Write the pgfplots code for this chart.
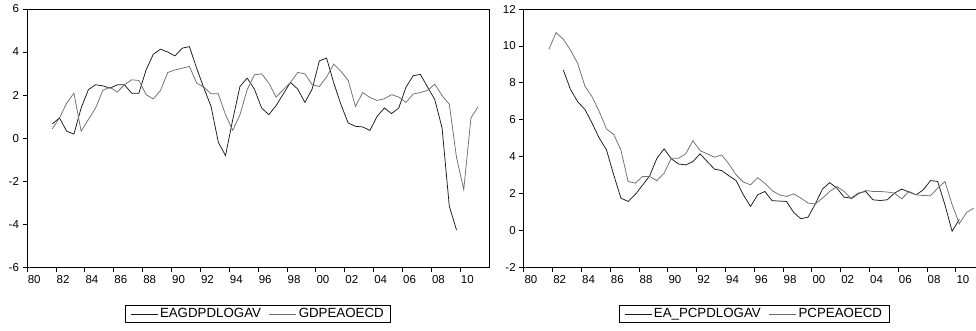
\documentclass[border=0pt]{standalone}
\usepackage{pgfplots}
\pgfplotsset{compat=1.18}
\usepackage{pgfplotstable}
\usepackage{fontspec}
\setmainfont{Liberation Sans}

\pgfplotstableread{
x y
1981.75 0.66
1982.25 0.94
1982.75 0.32
1983.25 0.19
1983.75 1.40
1984.25 2.25
1984.75 2.48
1985.25 2.43
1985.75 2.32
1986.25 2.48
1986.75 2.48
1987.25 2.09
1987.75 2.09
1988.25 3.17
1988.75 3.90
1989.25 4.13
1989.75 4.00
1990.25 3.82
1990.75 4.18
1991.25 4.25
1991.75 3.25
1992.25 2.33
1992.75 1.47
1993.25 -0.19
1993.75 -0.81
1994.25 0.86
1994.75 2.40
1995.25 2.79
1995.75 2.28
1996.25 1.40
1996.75 1.09
1997.25 1.51
1997.75 2.05
1998.25 2.59
1998.75 2.28
1999.25 1.66
1999.75 2.28
2000.25 3.59
2000.75 3.72
2001.25 2.56
2001.75 1.55
2002.25 0.70
2002.75 0.55
2003.25 0.52
2003.75 0.36
2004.25 1.01
2004.75 1.40
2005.25 1.14
2005.75 1.40
2006.25 2.37
2006.75 2.90
2007.25 2.96
2007.75 2.37
2008.25 1.78
2008.75 0.47
2009.25 -3.16
2009.75 -4.27
}\eagdp

\pgfplotstableread{
x y
1981.75 0.43
1982.25 0.94
1982.75 1.63
1983.25 2.09
1983.75 0.32
1984.25 0.86
1984.75 1.40
1985.25 2.22
1985.75 2.37
1986.25 2.14
1986.75 2.48
1987.25 2.71
1987.75 2.68
1988.25 2.02
1988.75 1.82
1989.25 2.22
1989.75 3.05
1990.25 3.17
1990.75 3.25
1991.25 3.33
1991.75 2.56
1992.25 2.37
1992.75 2.06
1993.25 2.06
1993.75 1.09
1994.25 0.36
1994.75 1.09
1995.25 2.25
1995.75 2.94
1996.25 2.99
1996.75 2.56
1997.25 1.91
1997.75 2.25
1998.25 2.59
1998.75 3.05
1999.25 2.99
1999.75 2.48
2000.25 2.40
2000.75 2.84
2001.25 3.44
2001.75 3.10
2002.25 2.68
2002.75 1.47
2003.25 2.12
2003.75 1.89
2004.25 1.75
2004.75 1.83
2005.25 2.02
2005.75 1.91
2006.25 1.66
2006.75 2.05
2007.25 2.12
2007.75 2.22
2008.25 2.51
2008.75 1.97
2009.25 1.58
2009.75 -0.90
2010.25 -2.39
2010.75 0.94
2011.25 1.47
}\gdpoecd

\pgfplotstableread{
x y
1982.75 8.69
1983.25 7.64
1983.75 6.97
1984.25 6.56
1984.75 5.81
1985.25 5.00
1985.75 4.36
1986.25 3.01
1986.75 1.75
1987.25 1.57
1987.75 1.95
1988.25 2.45
1988.75 2.96
1989.25 3.91
1989.75 4.42
1990.25 3.88
1990.75 3.60
1991.25 3.55
1991.75 3.73
1992.25 4.15
1992.75 3.73
1993.25 3.32
1993.75 3.24
1994.25 2.96
1994.75 2.70
1995.25 1.93
1995.75 1.30
1996.25 1.93
1996.75 2.11
1997.25 1.61
1997.75 1.59
1998.25 1.57
1998.75 0.97
1999.25 0.63
1999.75 0.72
2000.25 1.44
2000.75 2.24
2001.25 2.59
2001.75 2.29
2002.25 1.80
2002.75 1.75
2003.25 2.02
2003.75 2.11
2004.25 1.66
2004.75 1.62
2005.25 1.66
2005.75 2.02
2006.25 2.24
2006.75 2.08
2007.25 1.93
2007.75 2.20
2008.25 2.70
2008.75 2.65
2009.25 1.39
2009.75 -0.05
2010.25 0.60
}\eapcp

\pgfplotstableread{
x y
1981.75 9.81
1982.25 10.72
1982.75 10.36
1983.25 9.77
1983.75 9.05
1984.25 7.82
1984.75 7.24
1985.25 6.43
1985.75 5.50
1986.25 5.20
1986.75 4.36
1987.25 2.65
1987.75 2.56
1988.25 2.92
1988.75 2.92
1989.25 2.70
1989.75 3.10
1990.25 3.91
1990.75 3.91
1991.25 4.15
1991.75 4.86
1992.25 4.32
1992.75 4.15
1993.25 3.97
1993.75 4.09
1994.25 3.60
1994.75 3.01
1995.25 2.62
1995.75 2.47
1996.25 2.86
1996.75 2.55
1997.25 2.16
1997.75 1.93
1998.25 1.84
1998.75 1.98
1999.25 1.75
1999.75 1.48
2000.25 1.43
2000.75 1.75
2001.25 2.11
2001.75 2.38
2002.25 2.11
2002.75 1.71
2003.25 1.98
2003.75 2.16
2004.25 2.11
2004.75 2.11
2005.25 2.08
2005.75 2.02
2006.25 1.71
2006.75 2.11
2007.25 1.93
2007.75 1.89
2008.25 1.88
2008.75 2.29
2009.25 2.65
2009.75 1.40
2010.25 0.36
2010.75 0.97
2011.25 1.21
}\pcpoecd

\definecolor{serA}{RGB}{25,25,25}
\definecolor{serB}{RGB}{110,110,110}

\pgfplotsset{
  myax/.style={
    scale only axis,
    height=258.3pt,
    anchor=south west,
    xmin=1980, xmax=2012,
    xtick={1980,1982,...,2010},
    minor x tick num=3,
    xticklabels={80,82,84,86,88,90,92,94,96,98,00,02,04,06,08,10},
    xticklabel style={xshift=7.2pt},
    tick align=outside,
    xtick pos=bottom,
    ytick pos=left,
    major tick length=4.5pt,
    minor tick length=3pt,
    axis line style={line width=0.9pt},
    every tick/.style={black, line width=0.7pt},
    tick label style={font=\fontsize{11.5}{13}\selectfont},
    /pgf/number format/assume math mode=true,
    legend columns=2,
    legend image code/.code={\draw[##1] (0pt,0pt) -- (27pt,0pt);},
    legend style={at={(0.5,-0.146)}, anchor=north, draw=black, line width=0.6pt,
      font=\fontsize{13.3}{15}\selectfont, inner xsep=5pt, inner ysep=1.2pt,
      /tikz/every even column/.append style={column sep=6pt},
      cells={anchor=west}},
  }
}

\begin{document}
\begin{tikzpicture}[x=1pt,y=1pt]
\begin{axis}[myax, at={(27pt,63.7pt)}, width=462pt,
  ymin=-6, ymax=6, ytick={-6,-4,...,6}]
\addplot[serA, line width=0.75pt] table[x=x,y=y] {\eagdp};
\addlegendentry{EAGDPDLOGAV}
\addplot[serB, line width=0.75pt] table[x=x,y=y] {\gdpoecd};
\addlegendentry{GDPEAOECD}
\end{axis}
\begin{axis}[myax, at={(523.7pt,63.7pt)}, width=460.8pt,
  ymin=-2, ymax=12, ytick={-2,0,...,12}]
\addplot[serA, line width=0.75pt] table[x=x,y=y] {\eapcp};
\addlegendentry{EA\_PCPDLOGAV}
\addplot[serB, line width=0.75pt] table[x=x,y=y] {\pcpoecd};
\addlegendentry{PCPEAOECD}
\end{axis}
\pgfresetboundingbox
\useasboundingbox (0pt,0pt) rectangle (976pt,331pt);
\end{tikzpicture}
\end{document}
